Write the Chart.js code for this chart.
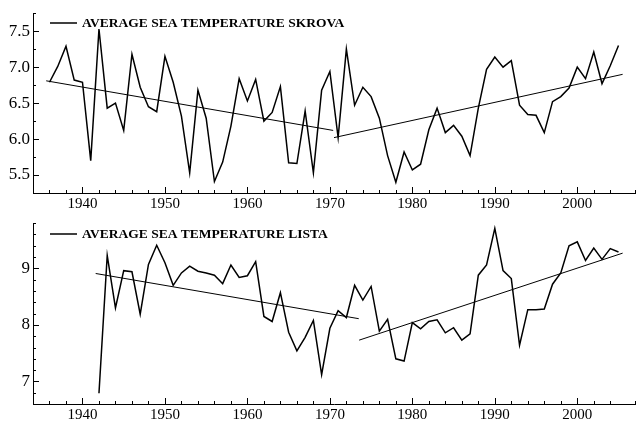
<!DOCTYPE html>
<html>
<head>
<meta charset="utf-8">
<script src="https://cdn.jsdelivr.net/npm/chart.js@4/dist/chart.umd.min.js"></script>
<style>
  body { margin: 0; background: #fff; }
  canvas { position: absolute; left: 0; }
  #skrova { top: 0; }
  #lista { top: 210px; }
</style>
</head>
<body>
<canvas id="skrova" width="637" height="210"></canvas>
<canvas id="lista" width="637" height="211"></canvas>
<script>
// values (degrees C)
const skrovaYears = [1936, 1937, 1938, 1939, 1940, 1941, 1942, 1943, 1944, 1945,
  1946, 1947, 1948, 1949, 1950, 1951, 1952, 1953, 1954, 1955,
  1956, 1957, 1958, 1959, 1960, 1961, 1962, 1963, 1964, 1965,
  1966, 1967, 1968, 1969, 1970, 1971, 1972, 1973, 1974, 1975,
  1976, 1977, 1978, 1979, 1980, 1981, 1982, 1983, 1984, 1985,
  1986, 1987, 1988, 1989, 1990, 1991, 1992, 1993, 1994, 1995,
  1996, 1997, 1998, 1999, 2000, 2001, 2002, 2003, 2004, 2005];
const skrovaTemp = [6.79, 7.01, 7.29, 6.82, 6.79, 5.70, 7.53, 6.43, 6.50, 6.12,
  7.18, 6.72, 6.45, 6.38, 7.15, 6.79, 6.32, 5.53, 6.68, 6.29,
  5.41, 5.68, 6.18, 6.84, 6.53, 6.83, 6.25, 6.37, 6.73, 5.67,
  5.66, 6.39, 5.53, 6.68, 6.94, 6.02, 7.25, 6.47, 6.72, 6.59,
  6.29, 5.77, 5.40, 5.82, 5.57, 5.65, 6.13, 6.43, 6.09, 6.19,
  6.04, 5.77, 6.43, 6.97, 7.14, 7.00, 7.09, 6.47, 6.34, 6.33,
  6.09, 6.52, 6.59, 6.71, 7.00, 6.84, 7.21, 6.77, 7.02, 7.30];

const listaYears = [1942, 1943, 1944, 1945, 1946, 1947, 1948, 1949, 1950, 1951,
  1952, 1953, 1954, 1955, 1956, 1957, 1958, 1959, 1960, 1961,
  1962, 1963, 1964, 1965, 1966, 1967, 1968, 1969, 1970, 1971,
  1972, 1973, 1974, 1975, 1976, 1977, 1978, 1979, 1980, 1981,
  1982, 1983, 1984, 1985, 1986, 1987, 1988, 1989, 1990, 1991,
  1992, 1993, 1994, 1995, 1996, 1997, 1998, 1999, 2000, 2001,
  2002, 2003, 2004, 2005];
const listaTemp = [6.79, 9.23, 8.30, 8.96, 8.94, 8.19, 9.07, 9.41, 9.10, 8.70,
  8.92, 9.04, 8.95, 8.92, 8.88, 8.73, 9.06, 8.84, 8.87, 9.12,
  8.15, 8.06, 8.57, 7.87, 7.54, 7.78, 8.08, 7.12, 7.94, 8.25,
  8.13, 8.70, 8.44, 8.68, 7.89, 8.10, 7.40, 7.36, 8.04, 7.93,
  8.06, 8.09, 7.86, 7.95, 7.73, 7.84, 8.88, 9.06, 9.71, 8.96,
  8.82, 7.64, 8.27, 8.27, 8.28, 8.72, 8.92, 9.40, 9.47, 9.14,
  9.36, 9.16, 9.35, 9.29];

// trend lines, two pieces each (null = break)
const skrovaTrendX = [1935.6, 1970.4, 1970.45, 1970.5, 2005.5];
const skrovaTrendY = [6.81, 6.12, null, 6.02, 6.90];
const listaTrendX = [1941.6, 1973.5, 1973.52, 1973.55, 2005.5];
const listaTrendY = [8.91, 8.11, null, 7.73, 9.27];

const skrovaLabel = 'AVERAGE SEA TEMPERATURE SKROVA';
const listaLabel = 'AVERAGE SEA TEMPERATURE LISTA';

const serif = 'Liberation Serif';

function pts(xs, ys) {
  return xs.map((x, i) => ({ x: x, y: ys[i] }));
}

function near(v, step) {
  return Math.abs(v / step - Math.round(v / step)) < 1e-6;
}

// ticks drawn inward plus the little legend in the top left corner
const innerTicks = {
  id: 'innerTicks',
  afterDraw(chart, args, opts) {
    const ctx = chart.ctx;
    const a = chart.chartArea;
    const xs = chart.scales.x, ys = chart.scales.y;
    ctx.save();
    ctx.strokeStyle = '#000';
    ctx.lineWidth = 1;
    ctx.beginPath();
    xs.ticks.forEach(t => {
      const px = Math.round(xs.getPixelForValue(t.value)) + 0.5;
      const len = near(t.value, 10) ? 6 : 3;
      ctx.moveTo(px, a.bottom);
      ctx.lineTo(px, a.bottom - len);
    });
    ys.ticks.forEach(t => {
      if (!near(t.value, opts.yMinor)) return;
      const py = Math.round(ys.getPixelForValue(t.value)) + 0.5;
      const len = near(t.value, opts.yMajor) ? 6 : 3;
      ctx.moveTo(a.left, py);
      ctx.lineTo(a.left + len, py);
    });
    ctx.stroke();

    // legend
    const ly = opts.legendY;
    ctx.lineWidth = 1.5;
    ctx.beginPath();
    ctx.moveTo(50, ly);
    ctx.lineTo(77, ly);
    ctx.stroke();
    ctx.fillStyle = '#000';
    ctx.font = 'bold 13.5px "' + serif + '"';
    ctx.textBaseline = 'middle';
    ctx.fillText(chart.data.datasets[0].label, 82, ly + 1);
    ctx.restore();
  }
};

function makeChart(id, label, xs, ys, tx, ty, yMin, yMax, yStep, yMajor, legendY, xHeight) {
  return new Chart(document.getElementById(id), {
    type: 'line',
    data: {
      datasets: [{
        label: label,
        data: pts(xs, ys),
        borderColor: '#000',
        borderWidth: 1.5,
        pointRadius: 0,
        tension: 0
      }, {
        label: 'trend',
        data: pts(tx, ty),
        borderColor: '#000',
        borderWidth: 1,
        pointRadius: 0,
        spanGaps: false
      }]
    },
    options: {
      responsive: false,
      animation: false,
      devicePixelRatio: 1,
      layout: { padding: { top: 10, right: 0, left: 0, bottom: 0 } },
      plugins: {
        legend: { display: false },
        tooltip: { enabled: false },
        innerTicks: { yMinor: yStep, yMajor: yMajor, legendY: legendY }
      },
      scales: {
        x: {
          type: 'linear',
          min: 1934,
          max: 2007,
          afterFit(s) { s.height = xHeight; },
          grid: { display: false, drawTicks: false },
          border: { display: true, color: '#000', width: 1 },
          ticks: {
            stepSize: 2,
            autoSkip: false,
            maxRotation: 0,
            padding: 2,
            color: '#000',
            font: { family: serif, size: 15 },
            callback: v => near(v, 10) ? String(v) : ''
          }
        },
        y: {
          min: yMin,
          max: yMax,
          afterFit(s) { s.width = 33; },
          grid: { display: false, drawTicks: false },
          border: { display: true, color: '#000', width: 1 },
          ticks: {
            stepSize: yStep,
            autoSkip: false,
            padding: 3,
            color: '#000',
            font: { family: serif, size: 17 },
            callback: v => near(v, yMajor) ? (yMajor < 1 ? v.toFixed(1) : String(Math.round(v))) : ''
          }
        }
      }
    },
    plugins: [innerTicks]
  });
}

makeChart('skrova', skrovaLabel, skrovaYears, skrovaTemp, skrovaTrendX, skrovaTrendY,
  5.25, 7.75, 0.25, 0.5, 23, 17);
makeChart('lista', listaLabel, listaYears, listaTemp, listaTrendX, listaTrendY,
  6.6, 9.8, 0.2, 1, 24, 17);
</script>
</body>
</html>
